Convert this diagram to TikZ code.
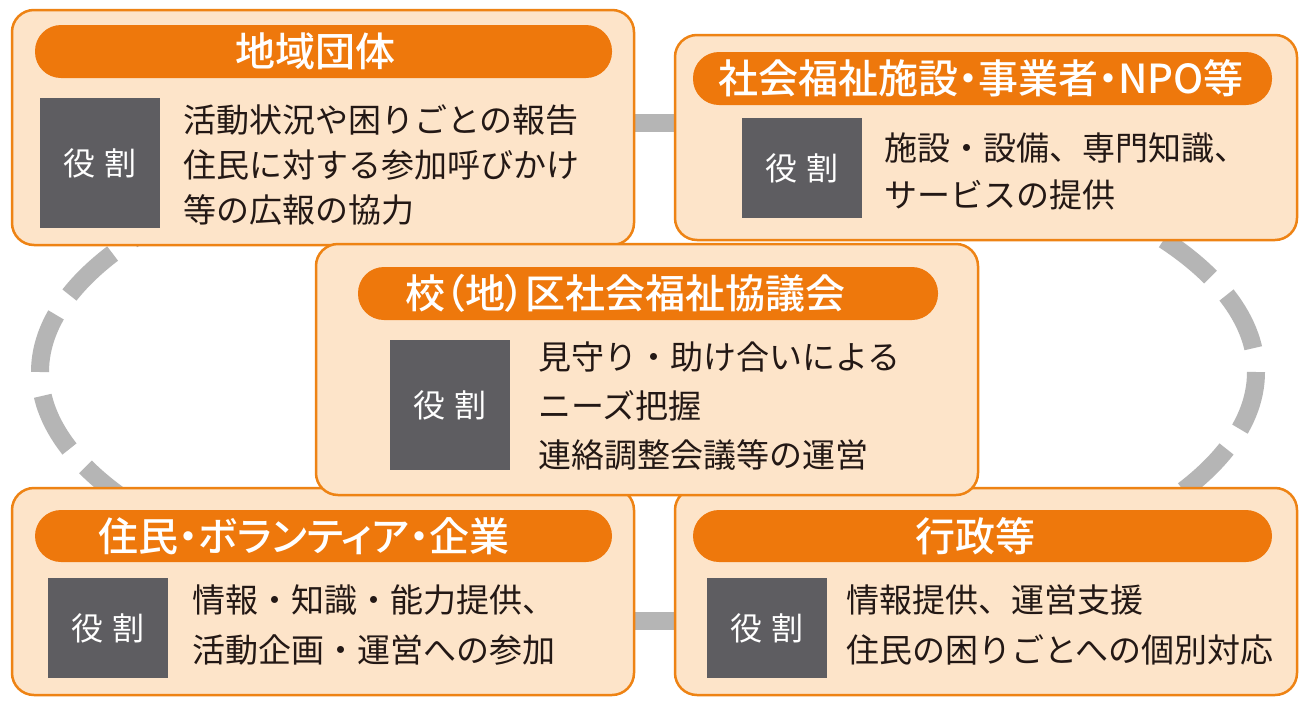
\documentclass[tikz,border=0pt]{standalone}
\usepackage{fontspec}
\newfontfamily\jp{Noto Sans CJK JP}
\newfontfamily\jpt[RawFeature=+palt]{Noto Sans CJK JP Medium}
\definecolor{peach}{HTML}{FDE4C9}
\definecolor{orangeline}{HTML}{EE8314}
\definecolor{pillor}{HTML}{EE780C}
\definecolor{rolegray}{HTML}{5E5D61}
\definecolor{ringgray}{HTML}{B5B5B5}
\definecolor{ink}{HTML}{231815}
\tikzset{
  outerbox/.style={draw=orangeline, line width=2.5pt, fill=peach, rounded corners=22pt, inner sep=0pt},
  pillbox/.style={fill=pillor, rounded corners=26pt, inner sep=0pt},
  pilltext/.style={inner sep=0pt, text=white, font=\jpt\fontsize{40}{42}\selectfont},
  rolebox/.style={fill=rolegray, inner sep=0pt, minimum width=120pt, text=white, font=\jp\fontsize{32}{34}\selectfont},
  bodytext/.style={anchor=west, align=left, inner sep=0pt, text=ink},
  ring/.style={draw=ringgray, line width=18pt, dash pattern=on 60pt off 24pt},
}
\begin{document}
\begin{tikzpicture}[x=1pt,y=-1pt]
\useasboundingbox[fill=white] (0,0) rectangle (1310,710);
% ring
\coordinate (rr) at (1256,372);
\coordinate (rl) at (40,372);
\draw[ring] (rr) arc[start angle=0, end angle=75, x radius=608, y radius=250];
\draw[ring, dash phase=60pt] (rr) arc[start angle=0, end angle=-75, x radius=608, y radius=250];
\draw[ring] (rl) arc[start angle=180, end angle=255, x radius=608, y radius=250];
\draw[ring, dash phase=60pt] (rl) arc[start angle=180, end angle=105, x radius=608, y radius=250];
\coordinate (tb) at (590,123);
\coordinate (tb2) at (710,123);
\coordinate (bb) at (590,621);
\coordinate (bb2) at (710,621);
\draw[draw=ringgray, line width=18pt] (tb) -- (tb2);
\draw[draw=ringgray, line width=18pt] (bb) -- (bb2);
% top-left
\node[outerbox, minimum width=622pt, minimum height=235pt] (tl) at (323,127.5) {};
\node[pillbox, minimum width=577pt, minimum height=53pt] (tlp) at (323.5,51.5) {};
\node[pilltext] (tlpt) at (315,51.5) {地域団体};
\node[rolebox, minimum height=130pt] (tlr) at (100,163) {役\hspace{10pt}割};
\node[bodytext, font=\jp\fontsize{33}{45}\selectfont] (tlt) at (183,165) {活動状況や困りごとの報告\\住民に対する参加呼びかけ\\等の広報の協力};
% top-right
\node[outerbox, minimum width=622pt, minimum height=205pt] (tr) at (986,137.5) {};
\node[pillbox, minimum width=579pt, minimum height=53pt] (trp) at (982.5,78.5) {};
\node[pilltext] (trpt) at (981,78.5) {社会福祉施設・事業者・NPO等};
\node[rolebox, minimum height=100pt] (trr) at (802,168) {役\hspace{10pt}割};
\node[bodytext, font=\jp\fontsize{33}{47}\selectfont] (trt) at (884,171) {施設・設備、専門知識、\\サービスの提供};
% bottom-left
\node[outerbox, minimum width=622pt, minimum height=207pt] (bl) at (323,591.5) {};
\node[pillbox, minimum width=577pt, minimum height=52pt] (blp) at (323.5,536) {};
\node[pilltext] (blpt) at (304,536) {住民・ボランティア・企業};
\node[rolebox, minimum height=100pt] (blr) at (108,628) {役\hspace{10pt}割};
\node[bodytext, font=\jp\fontsize{33}{50}\selectfont] (blt) at (192,625) {情報・知識・能力提供、\\活動企画・運営への参加};
% bottom-right
\node[outerbox, minimum width=622pt, minimum height=207pt] (br) at (986,591.5) {};
\node[pillbox, minimum width=579pt, minimum height=52pt] (brp) at (982.5,536) {};
\node[pilltext] (brpt) at (975,536) {行政等};
\node[rolebox, minimum height=100pt] (brr) at (767,628) {役\hspace{10pt}割};
\node[bodytext, font=\jp\fontsize{33}{50}\selectfont] (brt) at (846,625) {情報提供、運営支援\\住民の困りごとへの個別対応};
% center
\node[outerbox, minimum width=662pt, minimum height=251pt] (c) at (647,369.5) {};
\node[pillbox, minimum width=580pt, minimum height=53pt] (cp) at (648,293.5) {};
\node[pilltext] (cpt) at (625,293.5) {校（地）区社会福祉協議会};
\node[rolebox, minimum height=130pt] (cr) at (450,405) {役\hspace{10pt}割};
\node[bodytext, font=\jp\fontsize{33}{49}\selectfont] (ct) at (538,406) {見守り・助け合いによる\\ニーズ把握\\連絡調整会議等の運営};
\end{tikzpicture}
\end{document}
